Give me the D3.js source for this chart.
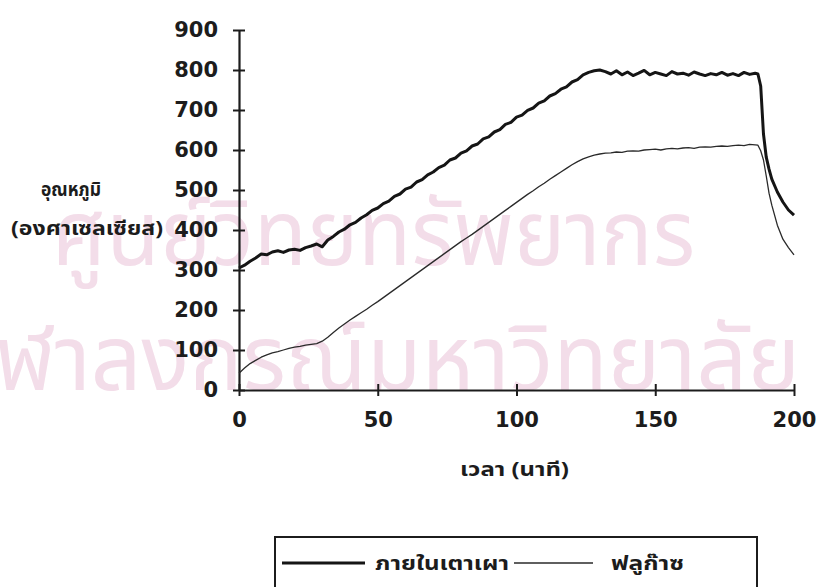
<!DOCTYPE html>
<html>
<head>
<meta charset="utf-8">
<script src="https://cdn.jsdelivr.net/npm/d3@7"></script>
<style>
  html, body { margin: 0; padding: 0; background: #ffffff; }
  svg { display: block; }
</style>
</head>
<body>
<svg id="chart" width="819" height="587"></svg>
<script>
// ---- data ----
const minutes = [
  0, 2, 4, 6, 8, 10, 12, 14, 16, 18, 20, 22, 24, 26, 28, 30, 32, 34, 36, 38,
  40, 42, 44, 46, 48, 50, 52, 54, 56, 58, 60, 62, 64, 66, 68, 70, 72, 74, 76, 78,
  80, 82, 84, 86, 88, 90, 92, 94, 96, 98, 100, 102, 104, 106, 108, 110, 112, 114, 116, 118,
  120, 122, 124, 126, 128, 130, 132, 134, 136, 138, 140, 142, 144, 146, 148, 150, 152, 154, 156, 158,
  160, 162, 164, 166, 168, 170, 172, 174, 176, 178, 180, 182, 184, 186, 187, 188, 189, 190, 191, 192,
  194, 196, 198, 200
];
const kilnTemp = [
  305, 312, 322, 330, 340, 338, 345, 348, 344, 350, 352, 349, 356, 360, 365, 358, 375, 384, 395, 402,
  413, 419, 430, 438, 449, 455, 466, 472, 484, 490, 502, 507, 520, 526, 538, 545, 556, 562, 575, 580,
  592, 598, 610, 615, 628, 633, 645, 651, 664, 669, 682, 687, 699, 705, 717, 723, 735, 741, 752, 758,
  770, 776, 788, 794, 798, 800, 796, 790, 798, 788, 795, 786, 792, 799, 788, 794, 790, 786, 796, 790,
  792, 787, 795, 790, 786, 791, 788, 794, 787, 791, 786, 794, 789, 792, 790, 760, 640, 582, 552, 527,
  495, 470, 450, 437
];
const flueGasTemp = [
  42, 55, 66, 74, 82, 88, 93, 96, 100, 104, 107, 109, 112, 114, 116, 122, 132, 144, 155, 165,
  175, 184, 193, 202, 212, 221, 231, 241, 251, 261, 271, 281, 291, 301, 311, 321, 331, 341, 351, 361,
  371, 380, 389, 399, 409, 419, 429, 439, 449, 459, 469, 479, 489, 498, 508, 517, 527, 536, 545, 554,
  563, 571, 578, 583, 587, 590, 592, 593, 595, 594, 597, 598, 597, 600, 601, 602, 600, 603, 604, 603,
  605, 606, 604, 607, 608, 607, 609, 610, 609, 611, 612, 611, 614, 613, 612, 598, 575, 535, 492, 462,
  412, 377, 356, 338
];
const xTicks = [0, 50, 100, 150, 200];
const yTicks = [0, 100, 200, 300, 400, 500, 600, 700, 800, 900];
const seriesNames = ["ภายในเตาเผา", "ฟลูก๊าซ"];
const yTitle = ["อุณหภูมิ", "(องศาเซลเซียส)"];
const xTitle = "เวลา (นาที)";
const watermark = ["ศูนย์วิทยทรัพยากร", "จุฬาลงกรณ์มหาวิทยาลัย"];

// ---- layout ----
const svg = d3.select("#chart");
const thaiFont = "'Noto Sans Thai', 'Noto Sans', 'DejaVu Sans', sans-serif";
const numFont = "'DejaVu Sans', sans-serif";
const ink = "#1c1c1c";

const x = d3.scaleLinear().domain([0, 200]).range([239, 794]);
const y = d3.scaleLinear().domain([0, 900]).range([390, 30]);

// faint watermark behind the chart
const wm = svg.append("g").attr("fill", "#f3dde9");
wm.append("text").attr("x", 52).attr("y", 265)
  .attr("font-family", thaiFont).attr("font-size", 92)
  .attr("textLength", 643).attr("lengthAdjust", "spacingAndGlyphs")
  .text(watermark[0]);
wm.append("text").attr("x", -52).attr("y", 390)
  .attr("font-family", thaiFont).attr("font-size", 92)
  .attr("textLength", 852).attr("lengthAdjust", "spacingAndGlyphs")
  .text(watermark[1]);

// axes
const yAxis = d3.axisLeft(y).tickValues(yTicks).tickSize(6).tickSizeOuter(0).tickPadding(15);
const gy = svg.append("g").attr("transform", `translate(${x(0)},0)`).call(yAxis);
gy.select(".domain").attr("stroke", ink).attr("stroke-width", 2.2);
gy.selectAll(".tick line").attr("x1", -6).attr("x2", 6).attr("stroke", ink).attr("stroke-width", 2);
gy.selectAll(".tick text").attr("font-family", numFont).attr("font-weight", "bold")
  .attr("font-size", 21).attr("fill", ink);

const xAxis = d3.axisBottom(x).tickValues(xTicks).tickSize(6).tickSizeOuter(0).tickPadding(16);
const gx = svg.append("g").attr("transform", `translate(0,${y(0)})`).call(xAxis);
gx.select(".domain").attr("stroke", ink).attr("stroke-width", 2.2);
gx.selectAll(".tick line").attr("y1", -6).attr("y2", 6).attr("stroke", ink).attr("stroke-width", 2);
gx.selectAll(".tick text").attr("font-family", numFont).attr("font-weight", "bold")
  .attr("font-size", 21).attr("fill", ink);

// series
const line = d3.line().x((d, i) => x(minutes[i])).y(d => y(d));
svg.append("path").datum(flueGasTemp).attr("d", line)
  .attr("fill", "none").attr("stroke", "#2a2a2a").attr("stroke-width", 1.3)
  .attr("stroke-linejoin", "round");
svg.append("path").datum(kilnTemp).attr("d", line)
  .attr("fill", "none").attr("stroke", "#151515").attr("stroke-width", 3)
  .attr("stroke-linejoin", "round");

// text helper: bold Thai label stretched to the width seen in the reference
function label(parent, tx, ty, len, str) {
  parent.append("text").attr("x", tx).attr("y", ty)
    .attr("font-family", thaiFont).attr("font-weight", "bold").attr("font-size", 19)
    .attr("fill", ink).attr("textLength", len).attr("lengthAdjust", "spacingAndGlyphs")
    .text(str);
}

// axis titles
label(svg, 41, 196, 60, yTitle[0]);
label(svg, 11, 235, 152, yTitle[1]);
label(svg, 460, 476, 109, xTitle);

// legend
const lg = svg.append("g");
lg.append("rect").attr("x", 275).attr("y", 537).attr("width", 482).attr("height", 80)
  .attr("fill", "none").attr("stroke", ink).attr("stroke-width", 2);
lg.append("line").attr("x1", 282).attr("x2", 365).attr("y1", 563).attr("y2", 563)
  .attr("stroke", "#151515").attr("stroke-width", 3);
label(lg, 375, 570, 134, seriesNames[0]);
lg.append("line").attr("x1", 514).attr("x2", 593).attr("y1", 563).attr("y2", 563)
  .attr("stroke", "#2a2a2a").attr("stroke-width", 1.3);
label(lg, 611, 570, 73, seriesNames[1]);
</script>
</body>
</html>
